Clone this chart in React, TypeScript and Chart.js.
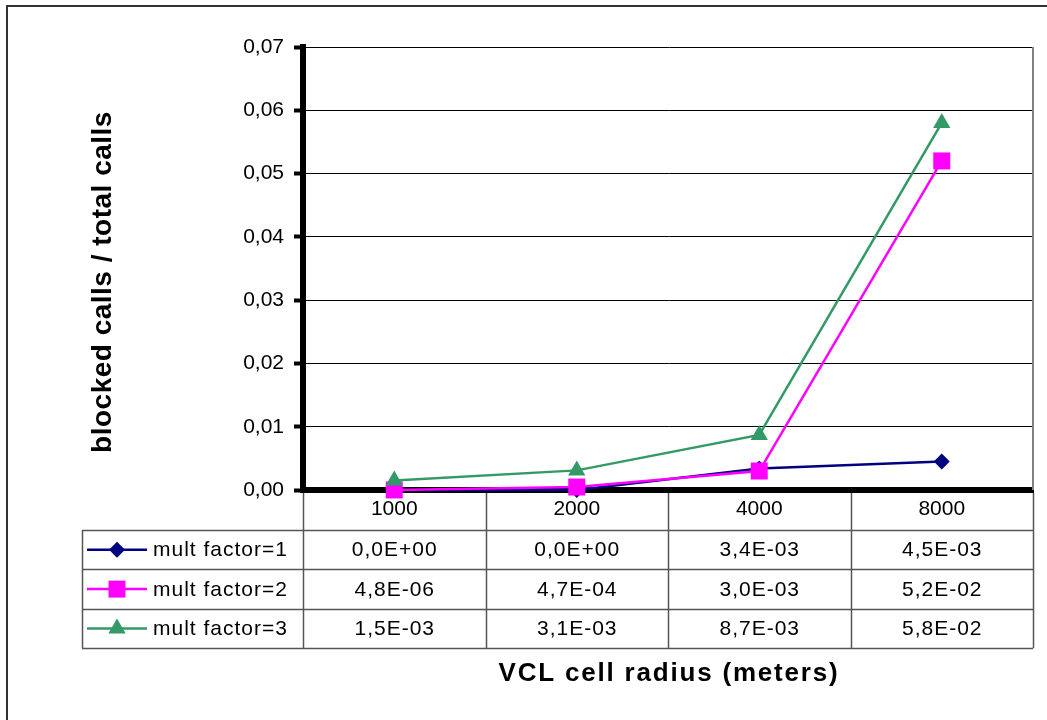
import React, { useEffect, useRef } from 'react';
import { Chart, registerables } from 'chart.js';

Chart.register(...registerables);

const categories = ['1000', '2000', '4000', '8000'];
const seriesNames = ['mult factor=1', 'mult factor=2', 'mult factor=3'];
const factor1 = [0, 0, 0.0034, 0.0045];
const factor2 = [0.0000048, 0.00047, 0.003, 0.052];
const factor3 = [0.0015, 0.0031, 0.0087, 0.058];
const seriesColors = ['#000080', '#FF00FF', '#339966'];
const pointStyles = ['rectRot', 'rect', 'triangle'];
const pointRadii = [8, 12, 10];
const yMin = 0;
const yMax = 0.07;
const yStep = 0.01;
const yTitle = 'blocked calls / total calls';
const xTitle = 'VCL cell radius (meters)';

const FONT = '"Liberation Sans", Arial, sans-serif';

function sci(v: number): string {
  const [m, e] = v.toExponential(1).split('e');
  const n = parseInt(e, 10);
  return m.replace('.', ',') + 'E' + (n < 0 ? '-' : '+') + String(Math.abs(n)).padStart(2, '0');
}

function drawMarker(ctx: CanvasRenderingContext2D, style: string, x: number, y: number, r: number, color: string) {
  ctx.save();
  ctx.fillStyle = color;
  ctx.beginPath();
  if (style === 'rectRot') {
    ctx.moveTo(x, y - r);
    ctx.lineTo(x + r, y);
    ctx.lineTo(x, y + r);
    ctx.lineTo(x - r, y);
  } else if (style === 'rect') {
    const s = Math.SQRT1_2 * r;
    ctx.rect(x - s, y - s, 2 * s, 2 * s);
  } else {
    const a = (2 * Math.PI) / 3;
    ctx.moveTo(x, y - r);
    ctx.lineTo(x + Math.sin(a) * r, y - Math.cos(a) * r);
    ctx.lineTo(x + Math.sin(2 * a) * r, y - Math.cos(2 * a) * r);
  }
  ctx.closePath();
  ctx.fill();
  ctx.restore();
}

function spaced(ctx: CanvasRenderingContext2D, px: number) {
  (ctx as any).letterSpacing = px + 'px';
}

const tablePlugin = {
  id: 'dataTable',
  afterDraw(chart: any) {
    const ctx: CanvasRenderingContext2D = chart.ctx;
    const { left, right, top, bottom } = chart.chartArea;
    const xs = chart.scales.x;
    const n = categories.length;
    const colW = (right - left) / n;
    const headerBottom = bottom + 40;
    const rowH = 39.4;
    const tableBottom = headerBottom + seriesNames.length * rowH;
    const legendLeft = 82;
    const allSeries = [factor1, factor2, factor3];

    ctx.save();
    // outer frame (cropped at right/bottom)
    ctx.strokeStyle = '#333';
    ctx.lineWidth = 2;
    ctx.beginPath();
    ctx.moveTo(7, 730);
    ctx.lineTo(7, 6);
    ctx.lineTo(1060, 6);
    ctx.stroke();

    // plot right border
    ctx.strokeStyle = '#808080';
    ctx.lineWidth = 2;
    ctx.beginPath();
    ctx.moveTo(right, top);
    ctx.lineTo(right, bottom);
    ctx.stroke();

    // table grid
    ctx.strokeStyle = '#555';
    ctx.lineWidth = 1.5;
    ctx.beginPath();
    for (let r = 0; r <= seriesNames.length; r++) {
      const y = Math.round(headerBottom + r * rowH) + 0.5;
      ctx.moveTo(legendLeft, y);
      ctx.lineTo(right, y);
    }
    ctx.moveTo(legendLeft + 0.5, headerBottom);
    ctx.lineTo(legendLeft + 0.5, tableBottom);
    for (let i = 0; i <= n; i++) {
      const x = Math.round(i === n ? right : xs.getPixelForValue(i) - colW / 2) + 0.5;
      ctx.moveTo(x, bottom + 3);
      ctx.lineTo(x, tableBottom);
    }
    ctx.stroke();

    // legend + values
    ctx.font = '21px ' + FONT;
    ctx.textBaseline = 'middle';
    ctx.fillStyle = '#000';
    spaced(ctx, 1);
    for (let s = 0; s < seriesNames.length; s++) {
      const cy = headerBottom + (s + 0.5) * rowH;
      ctx.strokeStyle = seriesColors[s];
      ctx.lineWidth = 2.5;
      ctx.beginPath();
      ctx.moveTo(87, cy);
      ctx.lineTo(147, cy);
      ctx.stroke();
      drawMarker(ctx, pointStyles[s], 117, cy, pointRadii[s], seriesColors[s]);
      ctx.fillStyle = '#000';
      ctx.textAlign = 'left';
      ctx.fillText(seriesNames[s], 153, cy + 1);
      ctx.textAlign = 'center';
      for (let i = 0; i < n; i++) {
        ctx.fillText(sci(allSeries[s][i]), xs.getPixelForValue(i) + 0.5, cy + 1);
      }
    }

    // x-axis title
    ctx.font = 'bold 26px ' + FONT;
    spaced(ctx, 1.8);
    ctx.textAlign = 'center';
    ctx.textBaseline = 'middle';
    ctx.fillText(xTitle, (left + right) / 2 + 1, 674);

    // y-axis title
    ctx.font = 'bold 28px ' + FONT;
    spaced(ctx, 0.5);
    ctx.translate(103, 282);
    ctx.rotate(-Math.PI / 2);
    ctx.fillText(yTitle, 0, 0);
    spaced(ctx, 0);
    ctx.restore();
  },
};

export default function App() {
  const ref = useRef<HTMLCanvasElement | null>(null);

  useEffect(() => {
    document.body.style.margin = '0';
    const canvas = ref.current;
    if (!canvas) return;
    const allSeries = [factor1, factor2, factor3];
    const chart = new Chart(canvas, {
      type: 'line',
      data: {
        labels: categories,
        datasets: allSeries.map((d, i) => ({
          label: seriesNames[i],
          data: d,
          borderColor: seriesColors[i],
          backgroundColor: seriesColors[i],
          borderWidth: 2.5,
          pointStyle: pointStyles[i] as any,
          pointRadius: pointRadii[i],
          pointHoverRadius: pointRadii[i],
          pointBorderWidth: 0,
          tension: 0,
          clip: false as any,
          order: 2 - i,
        })),
      },
      options: {
        responsive: false,
        animation: false,
        devicePixelRatio: 1,
        layout: { padding: { left: 0, top: 47, right: 14, bottom: 0 } },
        plugins: {
          legend: { display: false },
          tooltip: { enabled: false },
          title: { display: false },
        },
        scales: {
          x: {
            type: 'category',
            offset: true,
            grid: { display: true, drawOnChartArea: false, drawTicks: false, offset: true },
            border: { display: true, width: 6, color: '#000' },
            ticks: { color: '#000', font: { family: FONT, size: 21 }, padding: 7, maxRotation: 0 },
            title: { display: false, text: xTitle },
            afterFit: (s: any) => {
              s.height = 230;
            },
          },
          y: {
            min: yMin,
            max: yMax,
            ticks: {
              stepSize: yStep,
              color: '#000',
              font: { family: FONT, size: 21 },
              padding: 10,
              callback: (v: any) => Number(v).toFixed(2).replace('.', ','),
            },
            grid: { color: '#000', lineWidth: 1, tickLength: 9, tickWidth: 4, tickColor: '#000' },
            border: { display: true, width: 6, color: '#000' },
            afterFit: (s: any) => {
              s.width = 303;
            },
          },
        },
      },
      plugins: [tablePlugin],
    });
    return () => chart.destroy();
  }, []);

  return <canvas ref={ref} width={1047} height={720} style={{ display: 'block', width: 1047, height: 720 }} />;
}
